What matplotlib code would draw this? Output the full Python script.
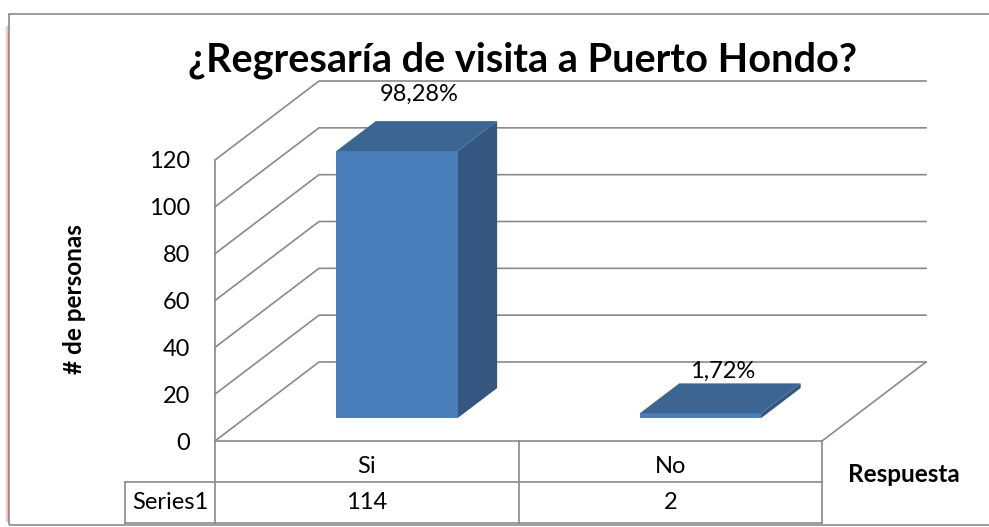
import numpy as np
import matplotlib.pyplot as plt
from matplotlib.patches import Polygon, Rectangle

plt.rcParams['font.family'] = ['Lato', 'DejaVu Sans']

# datos de la encuesta
categorias = ['Si', 'No']
personas = [114, 2]
serie = 'Series1'
marcas_y = [0, 20, 40, 60, 80, 100, 120]

total = sum(personas)
porcentajes = [f'{v / total * 100:.2f}%'.replace('.', ',') for v in personas]

W, H = 989, 527
fig = plt.figure(figsize=(W / 100, H / 100), dpi=100)
ax = fig.add_axes([215 / W, 1 - 441 / H, (822 - 215) / W, (441 - 160) / H])
ax.set_xlim(0, len(categorias))
ax.set_ylim(0, 120)

# profundidad de la caja 3D (en pixeles) pasada a unidades de datos
px_x = ax.bbox.width / len(categorias)
px_y = ax.bbox.height / 120
kx = 104 / px_x
ky = 79 / px_y


def proy(x, v, d):
    return x + d * kx, v + d * ky


gris = '#8a8a8a'
for t in marcas_y:
    x0, y0 = proy(0, t, 0)
    x1, y1 = proy(0, t, 1)
    x2, y2 = proy(len(categorias), t, 1)
    ax.plot([x0, x1, x2], [y0, y1, y2], color=gris, lw=1.2, clip_on=False, zorder=1)
# borde derecho del piso
xa, ya = proy(len(categorias), 0, 0)
xb, yb = proy(len(categorias), 0, 1)
ax.plot([xa, xb], [ya, yb], color=gris, lw=1.2, clip_on=False, zorder=1)

# barras 3D
d1, d2, ancho = 0.29, 0.67, 0.4
centros = np.arange(len(categorias)) + 0.5
ax.bar(centros + d1 * kx, personas, width=ancho, bottom=d1 * ky,
       color='#4A7EBB', clip_on=False, zorder=3)
for c, v in zip(centros, personas):
    xl, xr = c - ancho / 2, c + ancho / 2
    lado = [proy(xr, 0, d1), proy(xr, v, d1), proy(xr, v, d2), proy(xr, 0, d2)]
    tapa = [proy(xl, v, d1), proy(xr, v, d1), proy(xr, v, d2), proy(xl, v, d2)]
    ax.add_patch(Polygon(lado, closed=True, fc='#345680', ec='none', zorder=2, clip_on=False))
    ax.add_patch(Polygon(tapa, closed=True, fc='#3D6591', ec='none', zorder=4, clip_on=False))

# etiquetas de porcentaje
subida = [40, 25]
for c, v, txt, s in zip(centros, personas, porcentajes, subida):
    ax.annotate(txt, xy=proy(c, v, 0.5), xytext=(0, s * 0.72), textcoords='offset points',
                ha='center', va='center', fontsize=17, zorder=5, annotation_clip=False)

# ejes
for lado in ['top', 'right', 'bottom']:
    ax.spines[lado].set_visible(False)
ax.spines['left'].set_color(gris)
ax.spines['left'].set_linewidth(1.2)
ax.set_xticks([])
ax.set_yticks(marcas_y)
ax.tick_params(axis='y', length=0, pad=18, labelsize=17)
ax.patch.set_alpha(0)

# tabla de datos debajo del grafico
fila = 41 / px_y
x_serie = -90 / px_x
n = len(categorias)
lin = dict(color=gris, lw=1.2, clip_on=False, zorder=1)
ax.plot([0, n], [0, 0], **lin)
ax.plot([x_serie, n], [-fila, -fila], **lin)
ax.plot([x_serie, n], [-2 * fila, -2 * fila], **lin)
for i in range(n + 1):
    ax.plot([i, i], [0, -2 * fila], **lin)
ax.plot([x_serie, x_serie], [-fila, -2 * fila], **lin)
for c, cat, v in zip(centros, categorias, personas):
    ax.text(c, -0.62 * fila, cat, ha='center', va='center', fontsize=17)
    ax.text(c, -1.5 * fila, str(v), ha='center', va='center', fontsize=17)
ax.text(x_serie / 2, -1.5 * fila, serie, ha='center', va='center', fontsize=17)

fig.text(523 / W, 1 - 60 / H, '¿Regresaría de visita a Puerto Hondo?',
         ha='center', va='center', fontsize=28.5, fontweight='bold')
fig.text(75 / W, 1 - 299 / H, '# de personas', rotation=90,
         ha='center', va='center', fontsize=17.5, fontweight='bold')
fig.text(904 / W, 1 - 474 / H, 'Respuesta', ha='center', va='center',
         fontsize=17.5, fontweight='bold')

# marco del grafico con sombra
for i, a in enumerate([0.15, 0.3, 0.5, 0.7]):
    fig.add_artist(Rectangle(((5 + i) / W, 1 - 522 / H), 1 / W, (522 - 26) / H,
                             transform=fig.transFigure, fc='#f07070', ec='none', alpha=a))
fig.add_artist(Rectangle((9 / W, 1 - 525 / H), 1.2, (525 - 14) / H,
                         transform=fig.transFigure, fill=False, ec='#8c8c8c', lw=1.2))

fig.savefig('out.png', dpi=100)
